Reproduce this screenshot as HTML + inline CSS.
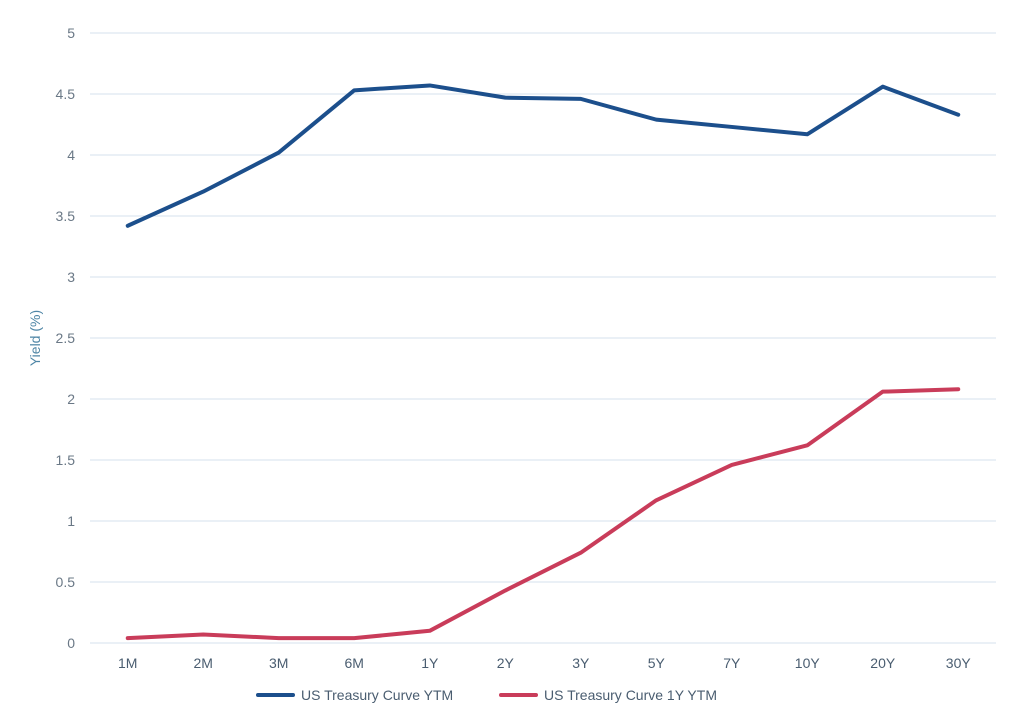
<!DOCTYPE html>
<html><head><meta charset="utf-8">
<style>
html,body{margin:0;padding:0;background:#fff;}
svg{display:block;font-family:"Liberation Sans",sans-serif;}
</style></head>
<body>
<svg id="chart" width="1024" height="728" viewBox="0 0 1024 728">
<g id="grid"></g>
<g id="yticks"></g>
<g id="xticks"></g>
<text transform="translate(40,338) rotate(-90)" text-anchor="middle" font-size="14" fill="#4f86a6">Yield (%)</text>
<g id="series"></g>
<g>
 <g>
  <line x1="258" y1="695" x2="293" y2="695" stroke="#1c4f8c" stroke-width="4" stroke-linecap="round"/>
  <text x="301" y="700" font-size="14" fill="#4a5d70">US Treasury Curve YTM</text>
 </g>
 <g>
  <line x1="501" y1="695" x2="536" y2="695" stroke="#c93c5a" stroke-width="4" stroke-linecap="round"/>
  <text x="544" y="700" font-size="14" fill="#4a5d70">US Treasury Curve 1Y YTM</text>
 </g>
</g>
</svg>
<script>
const categories = ["1M","2M","3M","6M","1Y","2Y","3Y","5Y","7Y","10Y","20Y","30Y"];
const ytmValues = [3.42,3.70,4.02,4.53,4.57,4.47,4.46,4.29,4.23,4.17,4.56,4.33];
const ytm1yValues = [0.04,0.07,0.04,0.04,0.10,0.43,0.74,1.17,1.46,1.62,2.06,2.08];
const yTickValues = [0,0.5,1,1.5,2,2.5,3,3.5,4,4.5,5];
const yTickLabels = ["0","0.5","1","1.5","2","2.5","3","3.5","4","4.5","5"];

const NS="http://www.w3.org/2000/svg";
const plotLeft=90,plotRight=996,plotTop=33,plotBottom=643,yMax=5;
const band=(plotRight-plotLeft)/categories.length;
function xPos(i){return plotLeft+band*(i+0.5);}
function yPos(v){return plotBottom-(v/yMax)*(plotBottom-plotTop);}
function mk(tag,attrs,parent){const e=document.createElementNS(NS,tag);for(const k in attrs)e.setAttribute(k,attrs[k]);parent.appendChild(e);return e;}

const grid=document.getElementById('grid'),yt=document.getElementById('yticks'),xt=document.getElementById('xticks'),ser=document.getElementById('series');
yTickValues.forEach((v,i)=>{
 const l=mk('line',{x1:plotLeft,x2:plotRight,y1:yPos(v),y2:yPos(v),stroke:'#d5e2ee','stroke-width':1},grid);
 
 
 const t=mk('text',{x:75,y:yPos(v)+5,'text-anchor':'end','font-size':14,fill:'#6a7886'},yt);
 t.textContent=yTickLabels[i];
 
 
});
categories.forEach((c,i)=>{
 const t=mk('text',{x:xPos(i),y:668,'text-anchor':'middle','font-size':14,fill:'#4a5d70'},xt);
 t.textContent=c;
 
 
});
function drawLine(vals,color,name){
 const d=vals.map((v,i)=>(i?'L':'M')+xPos(i)+','+yPos(v)).join(' ');
 const p=mk('path',{d:d,fill:'none',stroke:color,'stroke-width':4,'stroke-linejoin':'round','stroke-linecap':'round'},ser);
 
 
}
drawLine(ytmValues,'#1c4f8c','line-ytm');
drawLine(ytm1yValues,'#c93c5a','line-1y-ytm');
</script>
</body></html>
